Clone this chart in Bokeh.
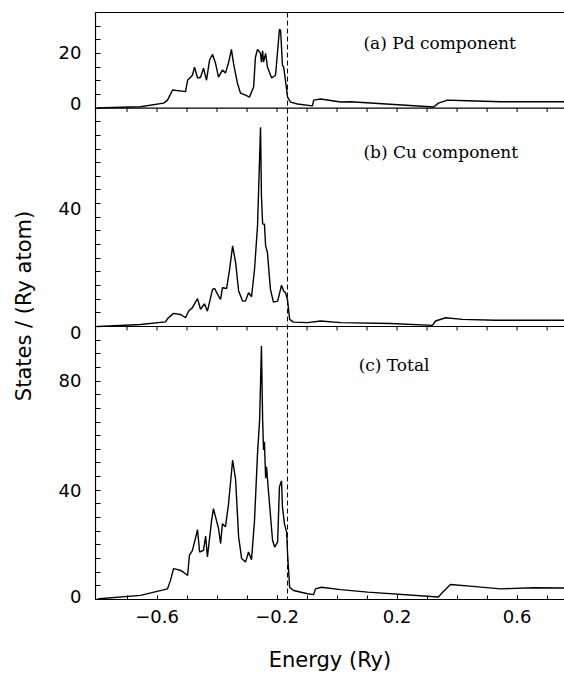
import math
from bokeh.plotting import figure
from bokeh.models import Range1d, LinearAxis, FixedTicker, Span, Label
from bokeh.embed import file_html
from bokeh.resources import INLINE

# ---------------- data ----------------
E_pd = [-0.800, -0.778, -0.655, -0.578, -0.565, -0.548, -0.505, -0.498, -0.482, -0.475,
        -0.465, -0.455, -0.445, -0.435, -0.425, -0.415, -0.405, -0.395, -0.382, -0.372,
        -0.362, -0.352, -0.345, -0.332, -0.322, -0.305, -0.292, -0.278, -0.272, -0.265,
        -0.255, -0.252, -0.248, -0.245, -0.238, -0.232, -0.218, -0.205, -0.198, -0.192,
        -0.188, -0.182, -0.178, -0.172, -0.165, -0.155, -0.132, -0.082, -0.078, -0.055,
        0.012, 0.045, 0.322, 0.338, 0.368, 0.435, 0.545, 0.758]
dos_pd = [0.0, 0.1, 0.5, 1.8, 2.9, 6.6, 6.0, 10.2, 12.0, 15.0,
          11.0, 11.3, 14.6, 10.2, 17.5, 19.7, 16.4, 11.3, 13.9, 12.8,
          16.4, 21.5, 16.4, 9.1, 5.5, 4.7, 4.0, 7.7, 18.6, 21.5,
          20.0, 16.8, 21.0, 16.8, 20.0, 15.0, 11.0, 12.0, 21.0, 28.8,
          28.5, 15.7, 15.0, 10.2, 4.0, 2.2, 1.5, 0.8, 2.9, 3.3,
          2.2, 2.3, 0.4, 1.8, 2.9, 2.7, 2.3, 2.3]

E_cu = [-0.800, -0.778, -0.655, -0.572, -0.562, -0.545, -0.522, -0.505, -0.495, -0.482,
        -0.465, -0.455, -0.442, -0.432, -0.415, -0.408, -0.395, -0.388, -0.382, -0.368,
        -0.358, -0.348, -0.338, -0.328, -0.315, -0.305, -0.295, -0.285, -0.275, -0.265,
        -0.262, -0.255, -0.252, -0.248, -0.242, -0.238, -0.232, -0.222, -0.212, -0.198,
        -0.185, -0.178, -0.172, -0.165, -0.158, -0.145, -0.098, -0.055, 0.012, 0.178,
        0.318, 0.328, 0.362, 0.418, 0.528, 0.758]
dos_cu = [0.0, 0.1, 0.7, 1.7, 3.2, 4.8, 4.4, 3.2, 5.6, 6.9,
          10.2, 6.3, 8.3, 5.6, 13.6, 13.9, 11.1, 9.9, 14.2, 13.9,
          21.0, 29.5, 23.4, 13.0, 9.3, 9.3, 12.4, 10.9, 21.0, 36.9,
          47.9, 73.0, 47.9, 37.5, 37.5, 29.5, 27.1, 13.6, 8.9, 9.3,
          15.1, 13.0, 12.4, 9.7, 2.6, 1.6, 1.4, 2.0, 1.4, 1.1,
          0.4, 2.0, 3.2, 2.6, 2.3, 2.3]

E_tot = [-0.800, -0.792, -0.655, -0.565, -0.555, -0.545, -0.522, -0.512, -0.498, -0.492,
         -0.482, -0.475, -0.465, -0.458, -0.445, -0.438, -0.432, -0.418, -0.412, -0.402,
         -0.395, -0.388, -0.382, -0.372, -0.362, -0.348, -0.338, -0.328, -0.318, -0.305,
         -0.295, -0.285, -0.275, -0.265, -0.258, -0.252, -0.248, -0.245, -0.242, -0.238,
         -0.235, -0.228, -0.215, -0.208, -0.198, -0.192, -0.185, -0.182, -0.175, -0.168,
         -0.165, -0.158, -0.145, -0.098, -0.078, -0.072, -0.052, 0.012, 0.102, 0.338,
         0.352, 0.378, 0.452, 0.545, 0.655, 0.758]
dos_tot = [0.0, 0.3, 1.5, 3.9, 7.0, 11.3, 10.7, 10.0, 8.8, 16.2,
           18.0, 21.0, 25.6, 17.4, 18.0, 23.2, 15.6, 29.0, 33.3, 29.0,
           26.0, 20.5, 27.8, 26.6, 34.6, 51.1, 43.8, 22.9, 15.0, 13.7,
           17.4, 14.6, 29.0, 53.6, 65.8, 92.8, 65.8, 54.8, 57.8, 44.4,
           48.6, 38.9, 21.7, 19.2, 21.1, 41.3, 43.5, 33.9, 27.6, 24.7,
           16.8, 4.5, 3.3, 2.1, 1.8, 3.9, 4.5, 3.6, 2.7, 0.9,
           2.7, 5.5, 4.8, 3.9, 4.3, 4.2]

fermi_energy = -0.165
x_labels_at = [-0.6, -0.2, 0.2, 0.6]
x_minor = [-0.7, -0.6, -0.5, -0.4, -0.3, -0.2, -0.1, 0.0, 0.1, 0.2, 0.3, 0.4, 0.5, 0.6, 0.7]

panel_names = ["a", "b", "c"]
panel_titles = ["(a) Pd component", "(b) Cu component", "(c) Total"]
panel_ymax = [35, 80, 100]
panel_ylabels = [[0, 20], [0, 40], [0, 40, 80]]
series = {"a": (E_pd, dos_pd), "b": (E_cu, dos_cu), "c": (E_tot, dos_tot)}

# ---------------- layout / style ----------------
SANS = "DejaVu Sans"
SERIF = "DejaVu Serif"
FRAME_H = 587
title_pos = {"a": (0.088, 23.7), "b": (0.088, 64.0), "c": (0.072, 86.0)}
# small vertical nudges (in panel units) that mimic the printed label placement
label_nudge = {("a", 0): 1.8, ("a", 20): 0.4, ("b", 0): -2.2, ("b", 40): 3.3,
               ("c", 0): 1.1, ("c", 40): -0.1, ("c", 80): 0.2}

# panel offsets in a stacked vertical coordinate (bottom panel first)
offsets = {}
acc = 0
for name, ymax in zip(reversed(panel_names), reversed(panel_ymax)):
    offsets[name] = acc
    acc += ymax
total = acc  # 215

p = figure(frame_width=469, frame_height=FRAME_H,
           x_range=Range1d(-0.805, 0.758), y_range=Range1d(0, total),
           x_axis_type=None, y_axis_type=None,
           output_backend="svg", toolbar_location=None,
           min_border_left=95, min_border_right=0, min_border_top=12, min_border_bottom=0)
p.outline_line_color = None
p.grid.visible = False

for name in panel_names:
    off = offsets[name]
    ymax = panel_ymax[panel_names.index(name)]
    p.extra_y_ranges[name] = Range1d(-off, total - off)

# left axis: minor ticks every 5 units in every panel, labels via major ticks
minor_y = []
label_pos = []
overrides = {}
for name, ymax, labs in zip(panel_names, panel_ymax, panel_ylabels):
    off = offsets[name]
    minor_y += [off + v for v in range(0, ymax + 1, 5)]
    for v in labs:
        pos = round(off + v + label_nudge.get((name, v), 0.0), 2)
        label_pos.append(pos)
        overrides[pos] = str(v)

ly = LinearAxis(ticker=FixedTicker(ticks=label_pos, minor_ticks=sorted(set(minor_y))),
                major_tick_in=0, major_tick_out=0, minor_tick_in=5, minor_tick_out=0,
                major_label_overrides=overrides,
                major_label_text_font=SANS, major_label_text_font_size="18px",
                major_label_text_color="black", major_label_standoff=14,
                axis_line_color="black", axis_line_width=1.2,
                minor_tick_line_color="black", minor_tick_line_width=1,
                axis_label="States / (Ry atom)", axis_label_text_font=SANS,
                axis_label_text_font_size="21px", axis_label_text_font_style="normal",
                axis_label_text_color="black", axis_label_standoff=20)
p.add_layout(ly, "left")

ta = LinearAxis(ticker=FixedTicker(ticks=[], minor_ticks=[]),
                major_tick_in=0, major_tick_out=0, minor_tick_in=0, minor_tick_out=0,
                axis_line_color="black", axis_line_width=1.2)
p.add_layout(ta, "above")

ba = LinearAxis(ticker=FixedTicker(ticks=x_labels_at, minor_ticks=x_minor),
                major_tick_in=4, major_tick_out=0, minor_tick_in=4, minor_tick_out=0,
                major_tick_line_color="black", minor_tick_line_color="black",
                major_label_text_font=SANS, major_label_text_font_size="18px",
                major_label_text_color="black", major_label_standoff=10,
                axis_line_color="black", axis_line_width=1.2,
                axis_label="Energy (Ry)", axis_label_text_font=SANS,
                axis_label_text_font_size="21px", axis_label_text_font_style="normal",
                axis_label_text_color="black", axis_label_standoff=22)
p.add_layout(ba, "below")

# panel boundaries with inward ticks (top of panels b and c)
tick_len = 4 / (FRAME_H / total)
for name in panel_names[1:]:
    yb = offsets[name] + panel_ymax[panel_names.index(name)]
    p.add_layout(Span(location=yb, dimension="width", line_color="black", line_width=1.2))
    p.segment(x0=x_minor, y0=[yb] * len(x_minor), x1=x_minor,
              y1=[yb - tick_len] * len(x_minor), line_color="black", line_width=1)

for name, title in zip(panel_names, panel_titles):
    E, dos = series[name]
    p.line(E, dos, y_range_name=name, line_color="black", line_width=1.4)
    tx, ty = title_pos[name]
    p.add_layout(Label(x=tx, y=ty, y_range_name=name, text=title, text_font=SERIF,
                       text_font_size="17px", text_baseline="middle", text_align="left",
                       text_color="black"))

p.add_layout(Span(location=fermi_energy, dimension="height", line_color="black",
                  line_width=1, line_dash="5 3"))

open("out.html", "w").write(file_html(p, INLINE))
